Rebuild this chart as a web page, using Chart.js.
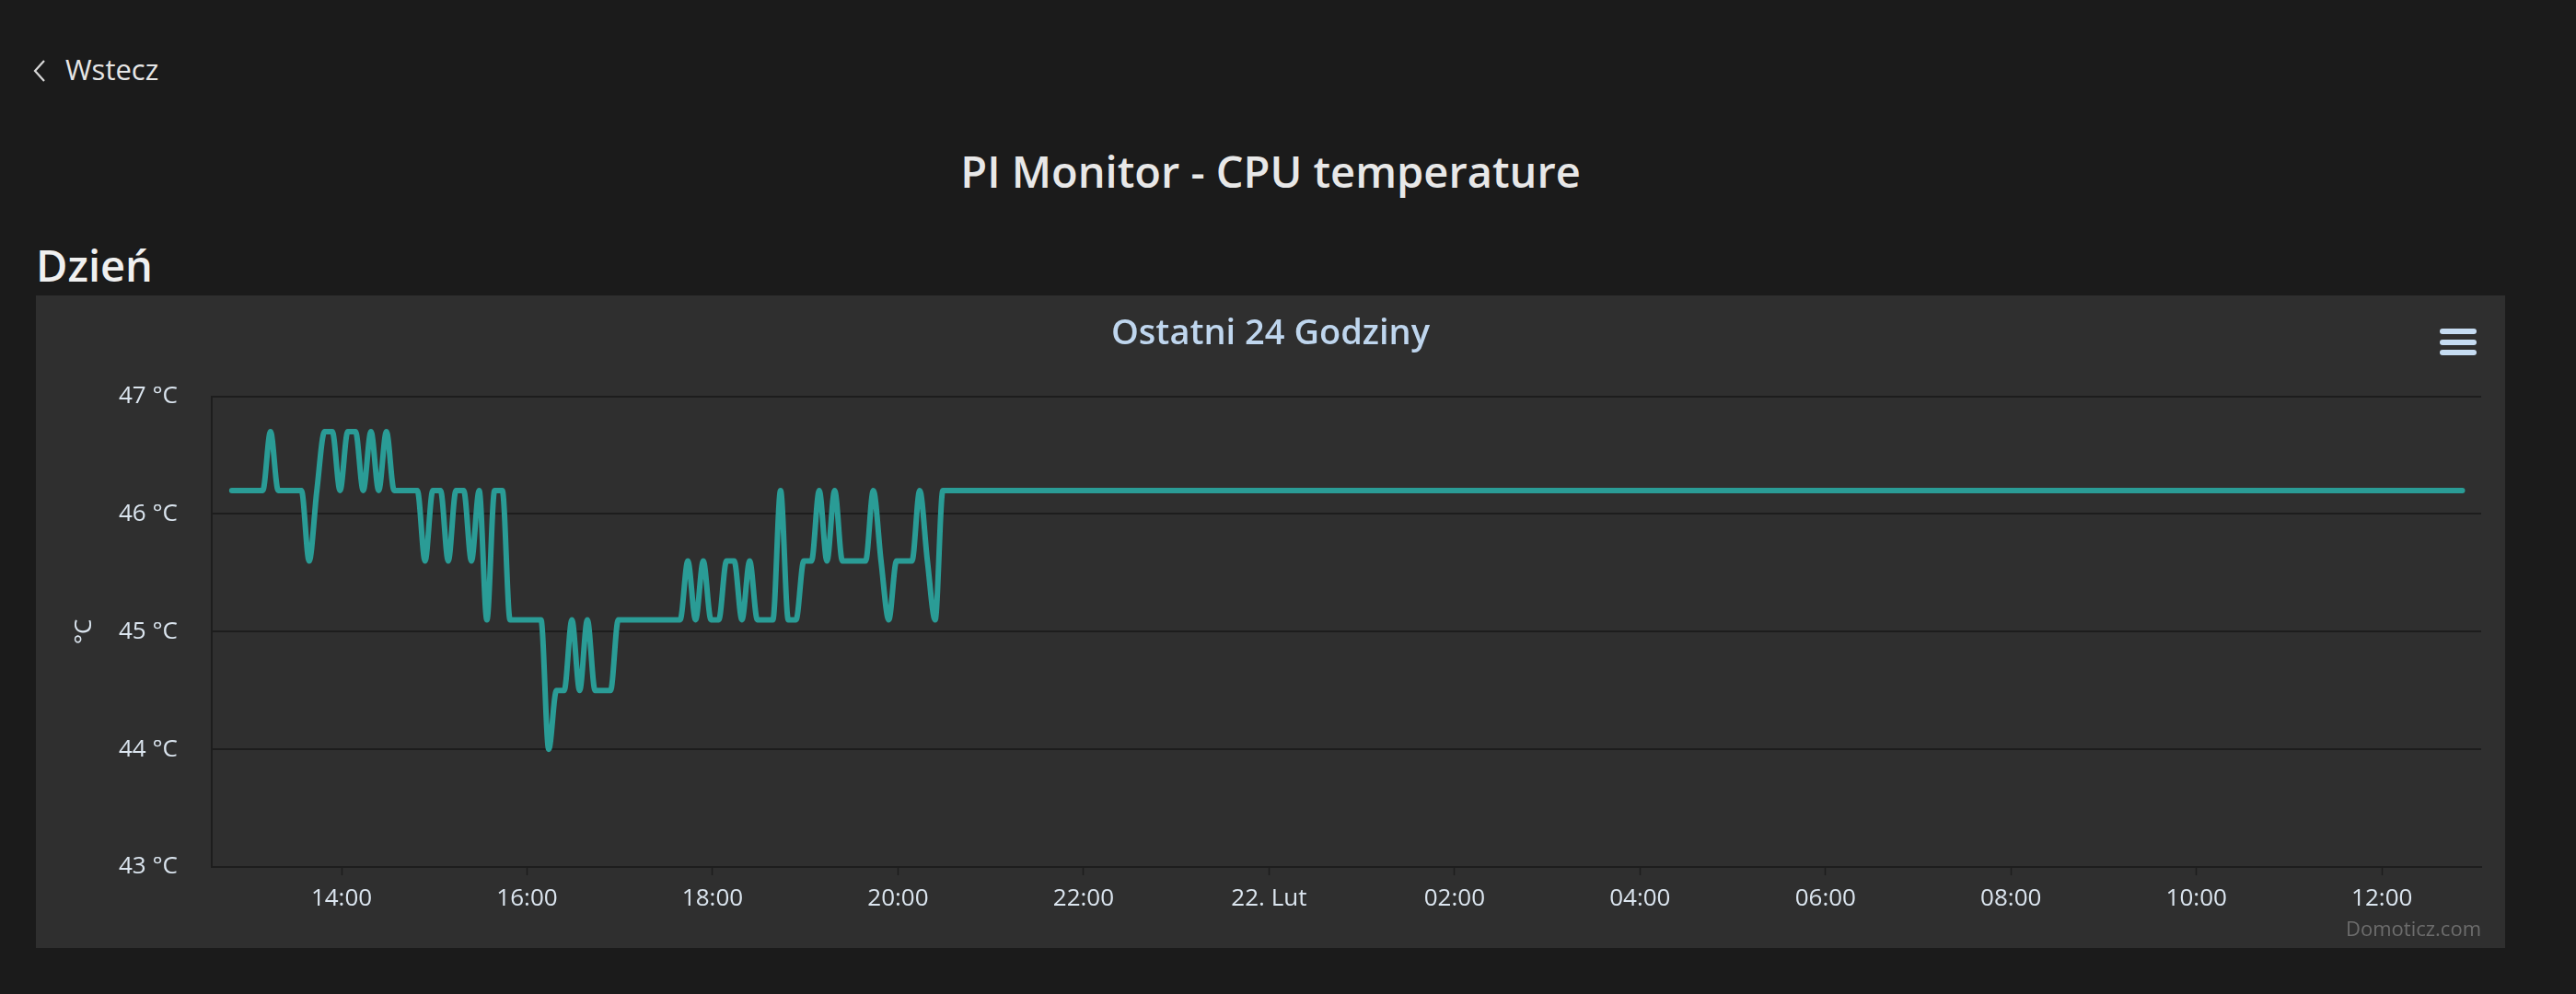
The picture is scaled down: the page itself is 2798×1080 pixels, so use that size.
<!DOCTYPE html>
<html>
<head>
<meta charset="utf-8">
<title>PI Monitor - CPU temperature</title>
<script src="https://cdn.jsdelivr.net/npm/chart.js@4.4.1/dist/chart.umd.min.js"></script>
<style>
    body {
        margin: 0;
        width: 2798px;
        height: 1080px;
        overflow: hidden;
        background: #1b1b1b;
        font-family: 'Open Sans', sans-serif;
        position: relative;
    }
    .txt {
        position: absolute;
        line-height: 1;
        white-space: nowrap;
    }
    #back { left: 71px; top: 60px; font-size: 31px; color: #e6e6e6; }
    #chevron { position: absolute; left: 33px; top: 63px; }
    #pageTitle { left: 39px; width: 2682px; top: 163px; text-align: center; font-size: 47px; font-weight: 600; color: #e8e8e8; }
    #dayLabel { left: 39px; top: 265px; font-size: 47px; font-weight: 600; color: #f0f0f0; }
    #panel {
        position: absolute;
        left: 39px;
        top: 321px;
        width: 2682px;
        height: 709px;
        background: #2f2f2f;
    }
    .bar {
        position: absolute;
        left: 2611px;
        width: 40px;
        height: 6px;
        border-radius: 3px;
        background: #c6dcf2;
    }
    #credits { right: 26px; top: 676px; font-size: 22px; color: #6c6c6c; }
</style>
</head>
<body>
<svg id="chevron" width="20" height="28">
    <polyline points="15,3 5,14 15,25" fill="none" stroke="#d8d8d8" stroke-width="2.2"/>
</svg>
<div id="back" class="txt">Wstecz</div>
<div id="pageTitle" class="txt">PI Monitor - CPU temperature</div>
<div id="dayLabel" class="txt">Dzień</div>
<div id="panel">
    <canvas id="tempChart"></canvas>
    <div class="bar" style="top:36px"></div>
    <div class="bar" style="top:48px"></div>
    <div class="bar" style="top:59px"></div>
    <div id="credits" class="txt">Domoticz.com</div>
</div>

<script>
// readings every 5 minutes, starting 21 Feb 12:49 (hours since midnight of 21 Feb)
const readingsStart = 12 + 49 / 60;
const readingStep = 5 / 60;
const temps = [
    46.2, 46.2, 46.2, 46.2, 46.2, 46.7, 46.2, 46.2, 46.2, 46.2,
    45.6, 46.2, 46.7, 46.7, 46.2, 46.7, 46.7, 46.2, 46.7, 46.2,
    46.7, 46.2, 46.2, 46.2, 46.2, 45.6, 46.2, 46.2, 45.6, 46.2,
    46.2, 45.6, 46.2, 45.1, 46.2, 46.2, 45.1, 45.1, 45.1, 45.1,
    45.1, 44.0, 44.5, 44.5, 45.1, 44.5, 45.1, 44.5, 44.5, 44.5,
    45.1, 45.1, 45.1, 45.1, 45.1, 45.1, 45.1, 45.1, 45.1, 45.6,
    45.1, 45.6, 45.1, 45.1, 45.6, 45.6, 45.1, 45.6, 45.1, 45.1,
    45.1, 46.2, 45.1, 45.1, 45.6, 45.6, 46.2, 45.6, 46.2, 45.6,
    45.6, 45.6, 45.6, 46.2, 45.6, 45.1, 45.6, 45.6, 45.6, 46.2,
    45.6, 45.1, 46.2
];
// after 20:29 the value stays flat until the last reading on 22 Feb
const lastTime = 36 + 52 / 60;
const lastTemp = 46.2;

const xTicks = [14, 16, 18, 20, 22, 24, 26, 28, 30, 32, 34, 36];
const xLabels = ['14:00', '16:00', '18:00', '20:00', '22:00', '22. Lut', '02:00', '04:00', '06:00', '08:00', '10:00', '12:00'];
const xMin = 12.6;
const xMax = 37.07;
const yTicks = [43, 44, 45, 46, 47];

const points = temps.map((t, i) => ({ x: readingsStart + i * readingStep, y: t }));
points.push({ x: lastTime, y: lastTemp });

const gridColor = '#1d1d1d';
const labelColor = '#dbe5ef';

Chart.defaults.font.family = "'Open Sans', sans-serif";

const ctx = document.getElementById('tempChart').getContext('2d');
const tempChart = new Chart(ctx, {
    type: 'line',
    data: {
        datasets: [{
            label: 'Temperatura',
            data: points,
            borderColor: '#2a9c96',
            borderWidth: 6,
            borderCapStyle: 'round',
            borderJoinStyle: 'round',
            cubicInterpolationMode: 'monotone',
            pointRadius: 0,
            fill: false
        }]
    },
    options: {
        responsive: true,
        maintainAspectRatio: false,
        devicePixelRatio: 1,
        animation: false,
        layout: {
            padding: { left: 26, right: 26, top: 0, bottom: 0 }
        },
        plugins: {
            legend: { display: false },
            tooltip: { enabled: false },
            title: {
                display: true,
                text: 'Ostatni 24 Godziny',
                color: '#bfd6ee',
                font: { size: 38, weight: '600' },
                padding: { top: 19, bottom: 45 }
            }
        },
        scales: {
            x: {
                type: 'linear',
                min: xMin,
                max: xMax,
                afterBuildTicks: axis => {
                    axis.ticks = xTicks.map(v => ({ value: v }));
                },
                afterFit: scale => {
                    scale.height = 88;
                },
                ticks: {
                    autoSkip: false,
                    maxRotation: 0,
                    color: labelColor,
                    font: { size: 26 },
                    padding: 10,
                    callback: value => xLabels[xTicks.indexOf(value)]
                },
                grid: {
                    drawOnChartArea: false,
                    drawTicks: true,
                    tickLength: 9,
                    tickColor: gridColor,
                    tickWidth: 1.5
                },
                border: { display: true, color: gridColor, width: 2 }
            },
            y: {
                min: yTicks[0],
                max: yTicks[yTicks.length - 1],
                afterBuildTicks: axis => {
                    axis.ticks = yTicks.map(v => ({ value: v }));
                },
                afterFit: scale => {
                    scale.width = 165;
                },
                ticks: {
                    color: labelColor,
                    font: { size: 26 },
                    padding: 37,
                    callback: value => value + ' °C'
                },
                grid: {
                    color: gridColor,
                    lineWidth: 2,
                    drawTicks: false
                },
                border: { display: true, color: gridColor, width: 2 },
                title: {
                    display: true,
                    text: '°C',
                    color: labelColor,
                    font: { size: 26 },
                    padding: { top: 11, bottom: 0 }
                }
            }
        }
    }
});
</script>
</body>
</html>
